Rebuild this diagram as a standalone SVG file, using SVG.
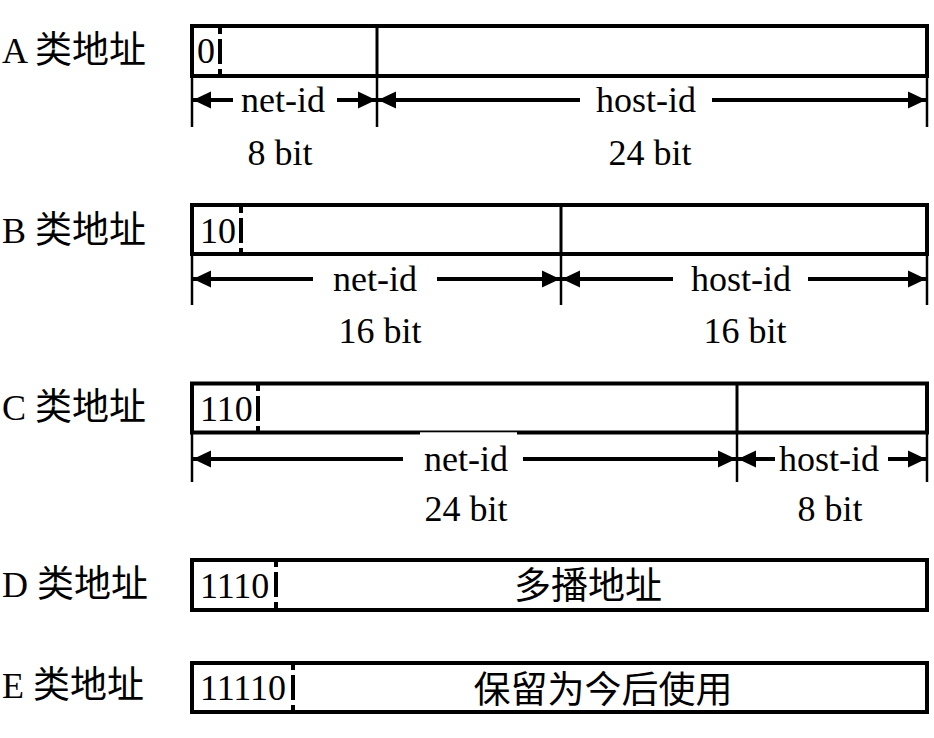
<svg xmlns="http://www.w3.org/2000/svg" width="934" height="738" viewBox="0 0 934 738">
<style>
.box{fill:none;stroke:#000;stroke-width:4}
.div{stroke:#000;stroke-width:3}
.dash{stroke:#000;stroke-width:4;stroke-dasharray:7 5 25 5 7}
.tick{stroke:#000;stroke-width:2.5}
.arr{stroke:#000;stroke-width:4;fill:none;marker-end:url(#ah)}
.t{font-family:"Liberation Serif","Times New Roman",serif;font-size:36px;fill:#000}
.c{font-family:"Noto Sans CJK SC","Noto Sans",sans-serif;font-size:37px;fill:#000}
.mid{text-anchor:middle}
</style>
<defs>
<marker id="ah" markerUnits="userSpaceOnUse" markerWidth="19" markerHeight="19" refX="18" refY="9.5" orient="auto" viewBox="0 0 19 19">
<path d="M0,1 L18,9.5 L0,18 Z" fill="#000"/>
</marker>
</defs>
<rect width="934" height="738" fill="#fff"/>

<g id="classA">
<text class="t" x="2" y="63">A <tspan class="c">类地址</tspan></text>
<rect class="box" x="192" y="26" width="735" height="50"/>
<line class="div" x1="377" y1="26" x2="377" y2="76"/>
<line class="dash" x1="220" y1="27" x2="220" y2="76"/>
<text class="t" x="197" y="63">0</text>
<text class="t mid" x="283" y="112">net-id</text>
<text class="t mid" x="646" y="112">host-id</text>
<text class="t mid" x="280" y="165">8 bit</text>
<text class="t mid" x="650" y="165">24 bit</text>
</g>

<g id="classB">
<text class="t" x="2" y="243">B <tspan class="c">类地址</tspan></text>
<rect class="box" x="192" y="205" width="735" height="49"/>
<line class="div" x1="561" y1="205" x2="561" y2="254"/>
<line class="dash" x1="241" y1="206" x2="241" y2="254"/>
<text class="t" x="200" y="243">10</text>
<text class="t mid" x="375" y="291">net-id</text>
<text class="t mid" x="741" y="291">host-id</text>
<text class="t mid" x="380" y="343">16 bit</text>
<text class="t mid" x="745" y="343">16 bit</text>
</g>

<g id="classC">
<text class="t" x="2" y="420">C <tspan class="c">类地址</tspan></text>
<rect class="box" x="192" y="383.5" width="735" height="49"/>
<line class="div" x1="737" y1="383.5" x2="737" y2="432.5"/>
<line class="dash" x1="258" y1="384" x2="258" y2="432"/>
<rect x="420" y="432.3" width="97" height="13" fill="#fff"/>
<text class="t" x="200" y="421">110</text>
<text class="t mid" x="466" y="471">net-id</text>
<text class="t mid" x="829" y="471">host-id</text>
<text class="t mid" x="466" y="521">24 bit</text>
<text class="t mid" x="830" y="521">8 bit</text>
</g>

<g id="classD">
<text class="t" x="2" y="597">D <tspan class="c">类地址</tspan></text>
<rect class="box" x="192" y="560" width="735" height="50"/>
<line class="dash" x1="276" y1="560" x2="276" y2="609"/>
<text class="t" x="200" y="598">1110</text>
<text class="c mid" x="588" y="599">多播地址</text>
</g>

<g id="classE">
<text class="t" x="2" y="698">E <tspan class="c">类地址</tspan></text>
<rect class="box" x="192" y="663" width="735" height="49"/>
<line class="dash" x1="293" y1="663" x2="293" y2="712"/>
<text class="t" x="200" y="700">11110</text>
<text class="c mid" x="603" y="703">保留为今后使用</text>
</g>

<g id="connectors">
<line class="tick" x1="192" y1="76" x2="192" y2="127"/>
<line class="tick" x1="377" y1="76" x2="377" y2="127"/>
<line class="tick" x1="927" y1="76" x2="927" y2="127"/>
<line class="arr" x1="233" y1="100" x2="193" y2="100"/>
<line class="arr" x1="337" y1="100" x2="376" y2="100"/>
<line class="arr" x1="580" y1="100" x2="378" y2="100"/>
<line class="arr" x1="712" y1="100" x2="926" y2="100"/>

<line class="tick" x1="192" y1="254" x2="192" y2="305"/>
<line class="tick" x1="561" y1="254" x2="561" y2="305"/>
<line class="tick" x1="927" y1="254" x2="927" y2="305"/>
<line class="arr" x1="313" y1="279" x2="193" y2="279"/>
<line class="arr" x1="437" y1="279" x2="560" y2="279"/>
<line class="arr" x1="673" y1="279" x2="562" y2="279"/>
<line class="arr" x1="808" y1="279" x2="926" y2="279"/>

<line class="tick" x1="192" y1="432" x2="192" y2="482"/>
<line class="tick" x1="737" y1="432" x2="737" y2="482"/>
<line class="tick" x1="927" y1="432" x2="927" y2="482"/>
<line class="arr" x1="403" y1="459" x2="193" y2="459"/>
<line class="arr" x1="523" y1="459" x2="736" y2="459"/>
<line class="arr" x1="775" y1="459" x2="738" y2="459"/>
<line class="arr" x1="888" y1="459" x2="926" y2="459"/>
</g>
</svg>
